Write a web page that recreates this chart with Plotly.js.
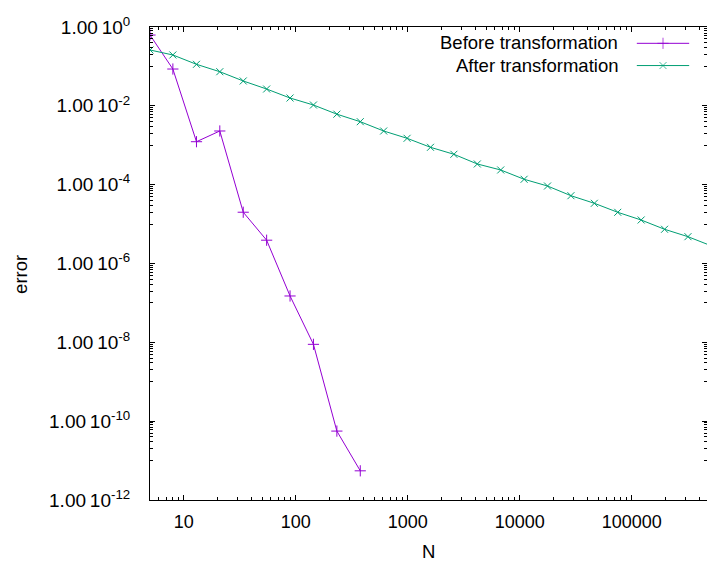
<!DOCTYPE html>
<html>
<head>
<meta charset="utf-8">
<script src="https://cdn.plot.ly/plotly-3.0.1.min.js"></script>
<style>html,body{margin:0;padding:0;background:#fff;overflow:hidden}</style>
</head>
<body>
<div id="chart" style="width:707px;height:563px"></div>
<script>
// ---- data ----
const nBefore = [5, 8, 13, 21, 34, 55, 89, 144, 233, 377];
const errBefore = [0.626, 0.0859, 1.23e-3, 2.3e-3, 2.0e-5, 3.9e-6, 1.5e-7, 8.9e-9, 5.6e-11, 5.5e-12];

const nAfter = [5, 8, 13, 21, 34, 55, 89, 144, 233, 377, 610, 987, 1597, 2584, 4181, 6765,
  10946, 17711, 28657, 46368, 75025, 121393, 196418, 317811, 514229];
const errAfter = [0.261, 0.195, 0.113, 0.0734, 0.0427, 0.0267, 0.0158, 0.0105, 0.00614, 0.00396,
  0.0023, 0.0015, 8.87e-4, 5.9e-4, 3.35e-4, 2.36e-4, 1.37e-4, 9.25e-5, 5.25e-5, 3.37e-5,
  1.99e-5, 1.27e-5, 7.38e-6, 4.79e-6, 2.8e-6];

const seriesNames = ["Before transformation", "After transformation"];
const seriesColors = ["#9400d3", "#009e73"];

const yTickVals = [1e0, 1e-2, 1e-4, 1e-6, 1e-8, 1e-10, 1e-12];
const yTickExp = ["0", "-2", "-4", "-6", "-8", "-10", "-12"];
const xTickVals = [10, 100, 1000, 10000, 100000];
const xTickText = ["10", "100", "1000", "10000", "100000"];

// minor ticks
const xMinor = [];
for (let e = 0; e <= 5; e++) for (let k = 2; k <= 9; k++) xMinor.push(k * Math.pow(10, e));
const yMinor = [];
for (let e = -11; e <= -1; e += 2) for (let k = 1; k <= 9; k++) yMinor.push(k * Math.pow(10, e));

const FONT = "Liberation Sans, Arial, sans-serif";

const traces = [
  {x: nBefore, y: errBefore, mode: "lines+markers", name: seriesNames[0],
   line: {color: seriesColors[0], width: 1},
   marker: {symbol: "cross-thin-open", size: 8, line: {color: seriesColors[0], width: 1}},
   showlegend: false, cliponaxis: true},
  {x: nAfter, y: errAfter, mode: "lines+markers", name: seriesNames[1],
   line: {color: seriesColors[1], width: 1},
   marker: {symbol: "x-thin-open", size: 7, line: {color: seriesColors[1], width: 1}},
   showlegend: false, cliponaxis: true},
  // legend samples on a hidden overlay axis
  {x: [0.874, 0.921, 0.968], y: [0.9655, 0.9655, 0.9655], xaxis: "x2", yaxis: "y2",
   mode: "lines+markers", line: {color: seriesColors[0], width: 1},
   marker: {symbol: "cross-thin-open", size: [0, 8, 0], line: {color: seriesColors[0], width: 1}},
   showlegend: false, hoverinfo: "skip"},
  {x: [0.874, 0.921, 0.968], y: [0.9185, 0.9185, 0.9185], xaxis: "x2", yaxis: "y2",
   mode: "lines+markers", line: {color: seriesColors[1], width: 1},
   marker: {symbol: "x-thin-open", size: [0, 7, 0], line: {color: seriesColors[1], width: 1}},
   showlegend: false, hoverinfo: "skip"}
];

const layout = {
  width: 707, height: 563,
  margin: {l: 150, r: 0, t: 27, b: 63, pad: 0},
  paper_bgcolor: "#fff", plot_bgcolor: "#fff",
  font: {family: FONT, size: 17, color: "#000"},
  showlegend: false,
  xaxis: {
    type: "log", range: [Math.log10(5), Math.log10(5) + 557 / 112],
    showline: true, linecolor: "#000", linewidth: 1, mirror: "allticks",
    showgrid: false, zeroline: false,
    tickmode: "array", tickvals: xTickVals, ticktext: xTickText,
    ticks: "inside", ticklen: 5, tickcolor: "#000", tickwidth: 1,
    ticklabelstandoff: 5,
    tickfont: {family: FONT, size: 18, color: "#000"},
    minor: {tickmode: "array", tickvals: xMinor, ticks: "inside", ticklen: 3, tickcolor: "#000", tickwidth: 1, showgrid: false}
  },
  yaxis: {
    type: "log", range: [-12, 0],
    showline: true, linecolor: "#000", linewidth: 1, mirror: "allticks",
    showgrid: false, zeroline: false,
    tickmode: "array", tickvals: yTickVals,
    ticktext: yTickExp.map(e => "1.00\u200910<sup>" + e + "</sup>"),
    ticks: "inside", ticklen: 5, tickcolor: "#000", tickwidth: 1,
    ticklabelstandoff: 15,
    tickfont: {family: FONT, size: 19, color: "#000"},
    minor: {tickmode: "array", tickvals: yMinor, ticks: "inside", ticklen: 3, tickcolor: "#000", tickwidth: 1, showgrid: false}
  },
  xaxis2: {overlaying: "x", range: [0, 1], visible: false, fixedrange: true},
  yaxis2: {overlaying: "y", range: [0, 1], visible: false, fixedrange: true},
  annotations: [
    {xref: "paper", yref: "paper", x: 0.8438, y: 0.9675, xanchor: "right", yanchor: "middle",
     text: seriesNames[0], showarrow: false, font: {family: FONT, size: 18.5, color: "#000"}},
    {xref: "paper", yref: "paper", x: 0.8438, y: 0.919, xanchor: "right", yanchor: "middle",
     text: seriesNames[1], showarrow: false, font: {family: FONT, size: 18.5, color: "#000"}},
    {xref: "paper", yref: "paper", x: -0.2316, y: 0.478, xanchor: "center", yanchor: "middle",
     textangle: -90, text: "error", showarrow: false, font: {family: FONT, size: 18.5, color: "#000"}},
    {xref: "paper", yref: "paper", x: 0.5, y: -0.109, xanchor: "center", yanchor: "middle",
     borderpad: 0, text: "N", showarrow: false, font: {family: FONT, size: 18.5, color: "#000"}}
  ]
};

Plotly.newPlot("chart", traces, layout, {staticPlot: true, displayModeBar: false});
</script>
</body>
</html>
